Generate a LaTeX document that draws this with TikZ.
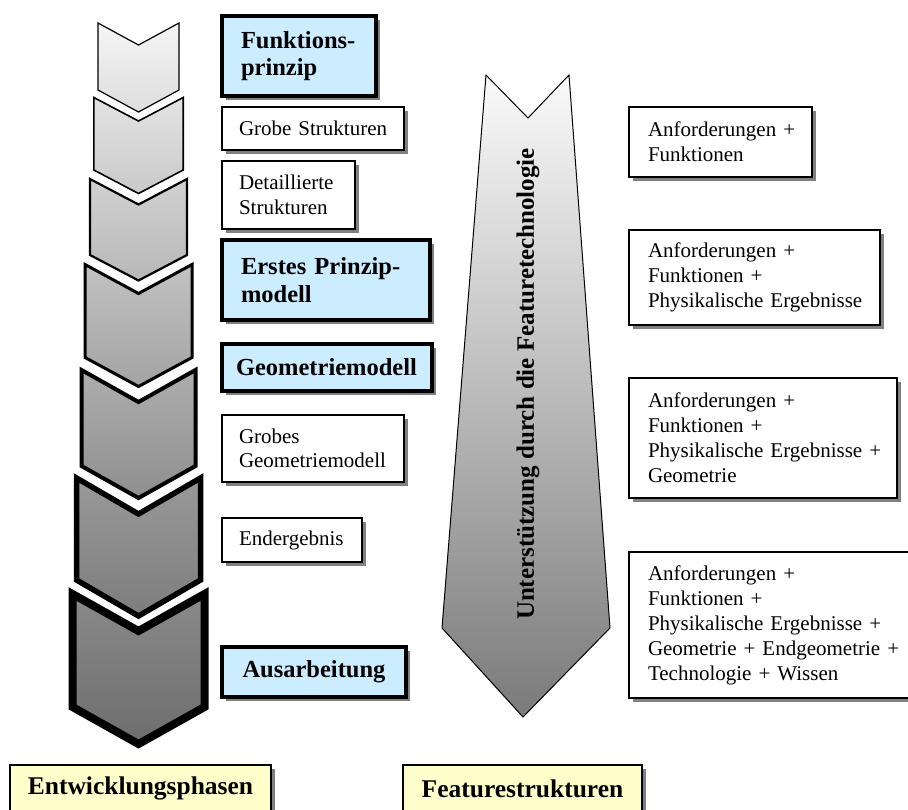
\documentclass[tikz,border=0pt]{standalone}
\usepackage{fontspec}
\setmainfont{Liberation Serif}
\usetikzlibrary{shadows}

\definecolor{phaseblue}{RGB}{204,236,255}
\definecolor{labelyellow}{RGB}{255,255,204}

% one chevron of the phase column:
% #1 centre x, #2 top y, #3 half width, #4 notch depth, #5 side height,
% #6 line width, #7 top colour, #8 bottom colour
\newcommand\phasechevron[8]{%
  \path[draw,line width=#6pt,top color=#7,bottom color=#8]
    (#1-#3,#2) -- (#1,#2+#4) -- (#1+#3,#2) -- (#1+#3,#2+#5)
    -- (#1,#2+#5+#4) -- (#1-#3,#2+#5) -- cycle;}

\begin{document}
\begin{tikzpicture}[x=1pt,y=-1pt,
  boxshadow/.style={drop shadow={shadow xshift=4pt,shadow yshift=-4pt,fill=black!50,opacity=1}},
  phasebox/.style={draw,line width=4pt,fill=phaseblue,boxshadow,inner sep=0pt,
    font=\fontsize{24.5}{27.5}\selectfont\bfseries},
  notebox/.style={draw,line width=1.2pt,fill=white,boxshadow,inner sep=0pt,align=left,
    font=\fontsize{21}{24.5}\selectfont},
  featbox/.style={draw,line width=1.2pt,fill=white,boxshadow,inner sep=0pt,align=left,
    font=\fontsize{21}{25}\selectfont},
  titlebox/.style={draw,line width=1.2pt,fill=labelyellow,boxshadow,inner sep=0pt,
    font=\fontsize{25.5}{28}\selectfont\bfseries}]

\useasboundingbox (0,0) rectangle (908,809);

% phase column
\phasechevron{138.5}{23}{40.5}{22}{67}{1.2}{black!4}{black!13}
\phasechevron{138.5}{97.5}{44.7}{23.5}{72.5}{1.6}{black!11}{black!21}
\phasechevron{138.5}{179}{48.5}{25.5}{76}{2.2}{black!18}{black!28}
\phasechevron{138.5}{264.5}{53.5}{29}{93}{3}{black!24}{black!36}
\phasechevron{138.5}{370}{57}{32}{96}{4}{black!32}{black!44}
\phasechevron{138.5}{478}{62}{36}{102}{5.5}{black!40}{black!51}
\phasechevron{138.5}{594}{66}{37}{113}{8}{black!46}{black!57}

% main phases
\node[phasebox,minimum width=154pt,minimum height=80pt,text width=116pt,align=left]
  (funktion) at (299,56) {Funktions-\\prinzip};
\node[phasebox,minimum width=208pt,minimum height=80pt,text width=170pt,align=left]
  (prinzip) at (326,280) {Erstes Prinzip-\\modell};
\node[phasebox,minimum width=210pt,minimum height=47pt,text width=182pt,align=left]
  (geometrie) at (327,367.5) {Geometriemodell};
\node[phasebox,minimum width=184pt,minimum height=50pt,align=center]
  (ausarbeitung) at (314,672) {Ausarbeitung};

% intermediate results
\node[notebox,minimum width=182pt,minimum height=43pt,text width=148pt]
  (grob) at (313,128.5) {\mbox{Grobe Strukturen}};
\node[notebox,minimum width=133pt,minimum height=68pt,text width=99pt]
  (detail) at (288.5,195) {\mbox{Detaillierte}\\\mbox{Strukturen}};
\node[notebox,minimum width=182pt,minimum height=67pt,text width=148pt]
  (grobgeo) at (313,448.5) {\mbox{Grobes}\\\mbox{Geometriemodell}};
\node[notebox,minimum width=140pt,minimum height=44pt,text width=106pt]
  (ende) at (292,540) {\mbox{Endergebnis}};

% support arrow
\path[draw,line width=1pt,top color=black!2,bottom color=black!52]
  (486,75) -- (528,118) -- (569,75) -- (610,628) -- (523,717) -- (442,628) -- cycle;
\node[rotate=90,font=\fontsize{25}{28}\selectfont\bfseries,inner sep=0pt]
  (support) at (528,384) {Unterstützung durch die Featuretechnologie};

% feature structures
\node[featbox,minimum width=183pt,minimum height=70pt,text width=145pt]
  (fs1) at (720.5,142) {\mbox{Anforderungen +}\\\mbox{Funktionen}};
\node[featbox,minimum width=251pt,minimum height=95pt,text width=213pt]
  (fs2) at (754.5,277.5) {\mbox{Anforderungen +}\\\mbox{Funktionen +}\\\mbox{Physikalische Ergebnisse}};
\node[featbox,minimum width=268pt,minimum height=120pt,text width=230pt]
  (fs3) at (763,438) {\mbox{Anforderungen +}\\\mbox{Funktionen +}\\\mbox{Physikalische Ergebnisse +}\\\mbox{Geometrie}};
\node[featbox,minimum width=286pt,minimum height=146pt,text width=248pt]
  (fs4) at (772,625) {\mbox{Anforderungen +}\\\mbox{Funktionen +}\\\mbox{Physikalische Ergebnisse +}\\\mbox{Geometrie + Endgeometrie +}\\\mbox{Technologie + Wissen}};

% column titles
\node[titlebox,minimum width=261pt,minimum height=47pt]
  (phasen) at (140.5,788.5) {Entwicklungsphasen};
\node[titlebox,minimum width=239pt,minimum height=47pt]
  (strukturen) at (522.5,788.5) {Featurestrukturen};

\end{tikzpicture}
\end{document}
